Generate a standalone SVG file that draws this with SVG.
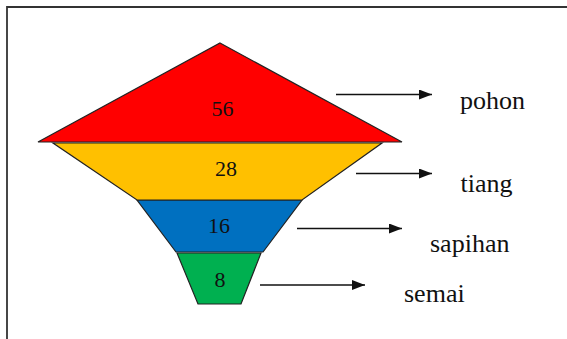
<svg xmlns="http://www.w3.org/2000/svg" width="567" height="339" viewBox="0 0 567 339">
<style>
.seg{stroke:#222;stroke-width:1.2;stroke-linejoin:miter}
.num{font-family:'Liberation Serif','DejaVu Serif',serif;font-size:22px;fill:#111;text-anchor:middle}
.lbl{font-family:'Liberation Serif','DejaVu Serif',serif;font-size:26px;fill:#111}
.conn line{stroke:#111;stroke-width:1.6}
</style>
<defs>
<marker id="ah" viewBox="0 0 10 10" refX="10" refY="5" markerWidth="13" markerHeight="10" markerUnits="userSpaceOnUse" orient="auto" preserveAspectRatio="none">
<path d="M0,0 L10,5 L0,10 Z" fill="#111"/>
</marker>
</defs>
<rect width="567" height="339" fill="#fff"/>
<path d="M7,339 V7 H567" fill="none" stroke="#333" stroke-width="1.8"/>
<g id="semai-node">
<polygon class="seg" points="177,253 261,253 241,304 198,304" fill="#00B050"/>
<text class="num" x="220" y="287">8</text>
</g>
<g id="sapihan-node">
<polygon class="seg" points="137,200 302,200 263,252 176,252" fill="#0070C0"/>
<text class="num" x="219" y="233">16</text>
</g>
<g id="tiang-node">
<polygon class="seg" points="53,143 382,143 302,200 137,200" fill="#FFC000"/>
<text class="num" x="226" y="176">28</text>
</g>
<g id="pohon-node">
<polygon class="seg" points="220,43 402,142 38,142" fill="#FF0000"/>
<text class="num" x="222.5" y="116">56</text>
</g>
<g id="connectors" class="conn">
<line x1="336" y1="94.5" x2="432" y2="94.5" marker-end="url(#ah)"/>
<line x1="356" y1="173.5" x2="432" y2="173.5" marker-end="url(#ah)"/>
<line x1="297" y1="228.5" x2="402" y2="228.5" marker-end="url(#ah)"/>
<line x1="260" y1="285" x2="365" y2="285" marker-end="url(#ah)"/>
</g>
<g id="labels">
<text class="lbl" x="460" y="109">pohon</text>
<text class="lbl" x="460.5" y="191.5">tiang</text>
<text class="lbl" x="430" y="251.5">sapihan</text>
<text class="lbl" x="404" y="301.5">semai</text>
</g>
</svg>
